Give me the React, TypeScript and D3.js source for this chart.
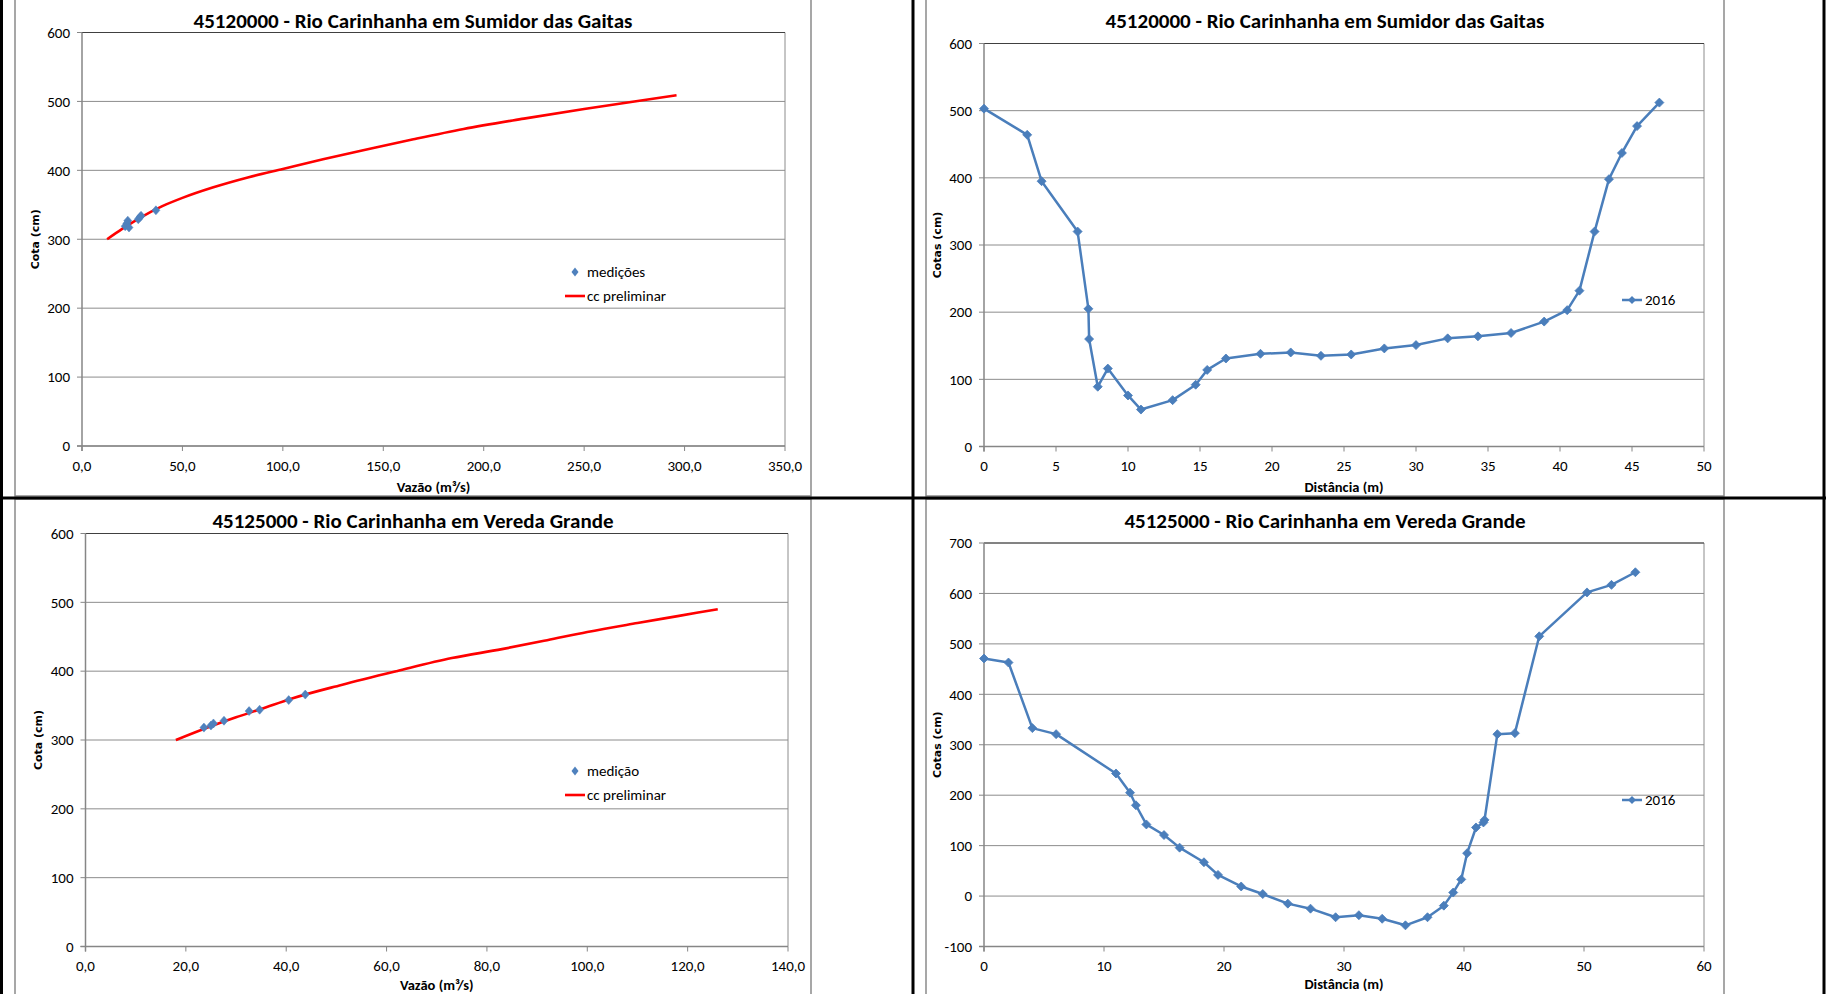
import React from "react";
import * as d3 from "d3";

// ---------------- data ----------------
const TITLE_1 = "45120000 - Rio Carinhanha em Sumidor das Gaitas";
const TITLE_2 = "45125000 - Rio Carinhanha em Vereda Grande";

const COTA_TICKS = [0, 100, 200, 300, 400, 500, 600];
const Q_TICKS_1 = [0, 50, 100, 150, 200, 250, 300, 350];
const Q_TICKS_2 = [0, 20, 40, 60, 80, 100, 120, 140];
const DIST_TICKS_1 = [0, 5, 10, 15, 20, 25, 30, 35, 40, 45, 50];
const DIST_TICKS_2 = [0, 10, 20, 30, 40, 50, 60];
const SEC_TICKS_2 = [-100, 0, 100, 200, 300, 400, 500, 600, 700];

// rating curve station 1
const MED1_Q = [21.5, 22.3, 22.8, 23.4, 28.0, 28.8, 29.4, 36.8];
const MED1_H = [319, 323, 327, 317, 329, 332, 334, 342];
const CC1_Q = [12.5, 20, 30, 40, 50, 65, 83, 100, 120, 140, 165, 190, 220, 250, 275, 296];
const CC1_H = [300, 315, 333, 348, 360, 375, 390, 402, 416, 429, 445, 460, 475, 489, 500, 509];

// rating curve station 2
const MED2_Q = [23.6, 25.0, 25.5, 27.6, 32.6, 34.7, 40.5, 43.8];
const MED2_H = [318, 321, 324, 328, 342, 344, 358, 366];
const CC2_Q = [18, 25, 30, 35, 41, 51, 62, 73, 83, 92, 100, 110, 118, 126];
const CC2_H = [300, 320, 333, 345, 360, 380, 400, 419, 432, 445, 457, 470, 480, 490];

// cross sections 2016
const SEC1_DIST = [0, 3.0, 4.0, 6.5, 7.25, 7.3, 7.9, 8.6, 10.0, 10.9, 13.1, 14.7, 15.5, 16.8, 19.2, 21.3, 23.4, 25.5, 27.8, 30.0, 32.2, 34.3, 36.6, 38.9, 40.5, 41.35, 42.4, 43.4, 44.3, 45.35, 46.9];
const SEC1_COTA = [503, 464, 395, 320, 205, 160, 89, 116, 76, 55, 69, 92, 114, 131, 138, 140, 135, 137, 146, 151, 161, 164, 169, 186, 203, 232, 320, 398, 437, 477, 512];

const SEC2_DIST = [0, 2.04, 4.03, 6.01, 11.0, 12.17, 12.66, 13.53, 15.0, 16.3, 18.33, 19.5, 21.43, 23.23, 25.32, 27.21, 29.3, 31.24, 33.18, 35.12, 36.96, 38.32, 39.1, 39.77, 40.26, 41.0, 41.62, 41.71, 42.78, 44.24, 46.27, 50.25, 52.29, 54.28];
const SEC2_COTA = [471, 463, 333, 321, 243, 205, 180, 142, 121, 96, 67, 42, 19, 4, -15, -25, -42, -38, -45, -58, -42, -19, 7, 33, 85, 136, 146, 151, 321, 323, 515, 602, 617, 642];

// ---------------- styles ----------------
const CAL = "Carlito, 'Liberation Sans Narrow', 'Arial Narrow', 'Noto Sans', sans-serif";
const VER = "'DejaVu Sans', Verdana, sans-serif";
const BLUE = "#4a7ebb";
const MARK = "#4f81bd";
const RED = "#ff0000";
const GRID = "#8c8c8c";

type Box = { l: number; t: number; r: number; b: number };

type PanelProps = {
  box: Box;
  plot: Box;
  title: string;
  titleY: number;
  xDomain: [number, number];
  xTicks: number[];
  decimals: boolean;
  yDomain: [number, number];
  yTicks: number[];
  xTitle: string;
  yTitle: string;
  yTitleX: number;
  xTitleY: number;
  kind: "rating" | "section";
  xs: number[];
  ys: number[];
  xs2?: number[];
  ys2?: number[];
  legendY: number;
  legendLabel: string;
};

const diamond = (cx: number, cy: number, w: number, h: number) =>
  `M${cx},${cy - h}L${cx + w},${cy}L${cx},${cy + h}L${cx - w},${cy}Z`;

function Panel(p: PanelProps) {
  const x = d3.scaleLinear().domain(p.xDomain).range([p.plot.l, p.plot.r]);
  const y = d3.scaleLinear().domain(p.yDomain).range([p.plot.b, p.plot.t]);
  const fmt = (v: number) => (p.decimals ? d3.format(".1f")(v).replace(".", ",") : String(v));
  const lineGen = d3
    .line<number>()
    .x((_, i) => x(p.xs[i]))
    .y((_, i) => y(p.ys[i]));
  const curveGen = d3
    .line<number>()
    .curve(d3.curveMonotoneX)
    .x((_, i) => x(p.xs2![i]))
    .y((_, i) => y(p.ys2![i]));
  const cx = (p.box.l + p.box.r) / 2;
  const pcx = (p.plot.l + p.plot.r) / 2;
  const pcy = (p.plot.t + p.plot.b) / 2;
  return (
    <g>
      {/* chart area border */}
      <rect x={p.box.l} y={p.box.t} width={p.box.r - p.box.l} height={p.box.b - p.box.t} fill="#fff" stroke="#8a8a8a" strokeWidth={1.5} />
      <text x={cx} y={p.titleY} textAnchor="middle" dy="0.36em" fontFamily={CAL} fontWeight="bold" fontSize={21} fill="#000">
        {p.title}
      </text>
      {/* gridlines */}
      {p.yTicks.map((t) => (
        <line key={"g" + t} x1={p.plot.l} x2={p.plot.r} y1={y(t)} y2={y(t)} stroke={GRID} strokeWidth={1} />
      ))}
      {/* plot frame */}
      <line x1={p.plot.r} x2={p.plot.r} y1={p.plot.t} y2={p.plot.b} stroke={GRID} strokeWidth={1} />
      <line x1={p.plot.l} x2={p.plot.r} y1={p.plot.t} y2={p.plot.t} stroke="#404040" strokeWidth={1} />
      {/* axes */}
      <line x1={p.plot.l} x2={p.plot.l} y1={p.plot.t} y2={p.plot.b + 5} stroke="#868686" strokeWidth={1.5} />
      <line x1={p.plot.l - 5} x2={p.plot.r} y1={y(p.yDomain[0])} y2={y(p.yDomain[0])} stroke="#868686" strokeWidth={1.5} />
      {p.yTicks.map((t) => (
        <g key={"yt" + t}>
          <line x1={p.plot.l - 5} x2={p.plot.l} y1={y(t)} y2={y(t)} stroke="#868686" strokeWidth={1} />
          <text x={p.plot.l - 12} y={y(t)} dy="0.35em" textAnchor="end" fontFamily={CAL} fontSize={15} fill="#000">
            {t}
          </text>
        </g>
      ))}
      {p.xTicks.map((t) => (
        <g key={"xt" + t}>
          <line x1={x(t)} x2={x(t)} y1={p.plot.b} y2={p.plot.b + 5} stroke="#868686" strokeWidth={1} />
          <text x={x(t)} y={p.plot.b + 19.5} dy="0.35em" textAnchor="middle" fontFamily={CAL} fontSize={15} fill="#000">
            {fmt(t)}
          </text>
        </g>
      ))}
      <text x={pcx} y={p.xTitleY} dy="0.35em" textAnchor="middle" fontFamily={CAL} fontWeight="bold" fontSize={14.5} fill="#000">
        {p.xTitle}
      </text>
      <text
        transform={`translate(${p.yTitleX},${pcy}) rotate(-90)`}
        dy="0.36em"
        textAnchor="middle"
        fontFamily={VER}
        fontWeight="bold"
        fontSize={11}
        fill="#000"
      >
        {p.yTitle}
      </text>
      {/* series */}
      {p.kind === "rating" ? (
        <g>
          <path d={curveGen(p.xs2!) || ""} fill="none" stroke={RED} strokeWidth={2.6} />
          {p.xs.map((v, i) => (
            <path key={"m" + i} d={diamond(x(v), y(p.ys[i]), 4, 4.5)} fill={MARK} stroke={MARK} strokeWidth={0.5} />
          ))}
          {/* legend */}
          <path d={diamond(575, p.legendY, 3.5, 4.5)} fill={MARK} />
          <text x={587} y={p.legendY} dy="0.35em" fontFamily={CAL} fontSize={15} fill="#000">
            {p.legendLabel}
          </text>
          <line x1={565} x2={585} y1={p.legendY + 24} y2={p.legendY + 24} stroke={RED} strokeWidth={2.6} />
          <text x={587} y={p.legendY + 24} dy="0.35em" fontFamily={CAL} fontSize={15} fill="#000">
            cc preliminar
          </text>
        </g>
      ) : (
        <g>
          <path d={lineGen(p.xs) || ""} fill="none" stroke={BLUE} strokeWidth={2.5} strokeLinejoin="round" />
          {p.xs.map((v, i) => (
            <path key={"m" + i} d={diamond(x(v), y(p.ys[i]), 4.5, 4.5)} fill={BLUE} stroke={BLUE} strokeWidth={0.8} />
          ))}
          <line x1={p.box.l + 696} x2={p.box.l + 716} y1={p.legendY} y2={p.legendY} stroke={BLUE} strokeWidth={2.5} />
          <path d={diamond(p.box.l + 706, p.legendY, 4, 4)} fill={BLUE} />
          <text x={p.box.l + 719} y={p.legendY} dy="0.35em" fontFamily={CAL} fontSize={15} fill="#000">
            {p.legendLabel}
          </text>
        </g>
      )}
    </g>
  );
}

const VAZAO = "Vazão (m³/s)";

export default function App() {
  return (
    <svg
      width={1826}
      height={994}
      style={{ position: "absolute", left: 0, top: 0, background: "#fff" }}
    >
      <rect x={0} y={0} width={1826} height={994} fill="#fff" />
      <Panel
        box={{ l: 15, t: -10, r: 811, b: 496 }}
        plot={{ l: 82, t: 32.5, r: 785, b: 446 }}
        title={TITLE_1}
        titleY={20.5}
        xDomain={[0, 350]}
        xTicks={Q_TICKS_1}
        decimals
        yDomain={[0, 600]}
        yTicks={COTA_TICKS}
        xTitle={VAZAO}
        yTitle="Cota (cm)"
        yTitleX={35}
        xTitleY={487}
        kind="rating"
        xs={MED1_Q}
        ys={MED1_H}
        xs2={CC1_Q}
        ys2={CC1_H}
        legendY={272}
        legendLabel="medições"
      />
      <Panel
        box={{ l: 926, t: -10, r: 1724, b: 496 }}
        plot={{ l: 984, t: 43.5, r: 1704, b: 446.5 }}
        title={TITLE_1}
        titleY={20.5}
        xDomain={[0, 50]}
        xTicks={DIST_TICKS_1}
        decimals={false}
        yDomain={[0, 600]}
        yTicks={COTA_TICKS}
        xTitle="Distância (m)"
        yTitle="Cotas (cm)"
        yTitleX={937.5}
        xTitleY={487}
        kind="section"
        xs={SEC1_DIST}
        ys={SEC1_COTA}
        legendY={300}
        legendLabel="2016"
      />
      <Panel
        box={{ l: 15, t: 499, r: 811, b: 1010 }}
        plot={{ l: 85.5, t: 533.5, r: 788, b: 946.5 }}
        title={TITLE_2}
        titleY={520.5}
        xDomain={[0, 140]}
        xTicks={Q_TICKS_2}
        decimals
        yDomain={[0, 600]}
        yTicks={COTA_TICKS}
        xTitle={VAZAO}
        yTitle="Cota (cm)"
        yTitleX={38}
        xTitleY={984.5}
        kind="rating"
        xs={MED2_Q}
        ys={MED2_H}
        xs2={CC2_Q}
        ys2={CC2_H}
        legendY={771}
        legendLabel="medição"
      />
      <Panel
        box={{ l: 926, t: 499, r: 1724, b: 1010 }}
        plot={{ l: 984, t: 543, r: 1704, b: 946.5 }}
        title={TITLE_2}
        titleY={520.5}
        xDomain={[0, 60]}
        xTicks={DIST_TICKS_2}
        decimals={false}
        yDomain={[-100, 700]}
        yTicks={SEC_TICKS_2}
        xTitle="Distância (m)"
        yTitle="Cotas (cm)"
        yTitleX={937.5}
        xTitleY={984}
        kind="section"
        xs={SEC2_DIST}
        ys={SEC2_COTA}
        legendY={800}
        legendLabel="2016"
      />
      {/* document table lines */}
      <line x1={1.5} x2={1.5} y1={0} y2={994} stroke="#000" strokeWidth={3} />
      <line x1={913} x2={913} y1={0} y2={994} stroke="#000" strokeWidth={3} />
      <line x1={1824} x2={1824} y1={0} y2={994} stroke="#000" strokeWidth={3} />
      <line x1={0} x2={1826} y1={498} y2={498} stroke="#000" strokeWidth={3} />
    </svg>
  );
}
